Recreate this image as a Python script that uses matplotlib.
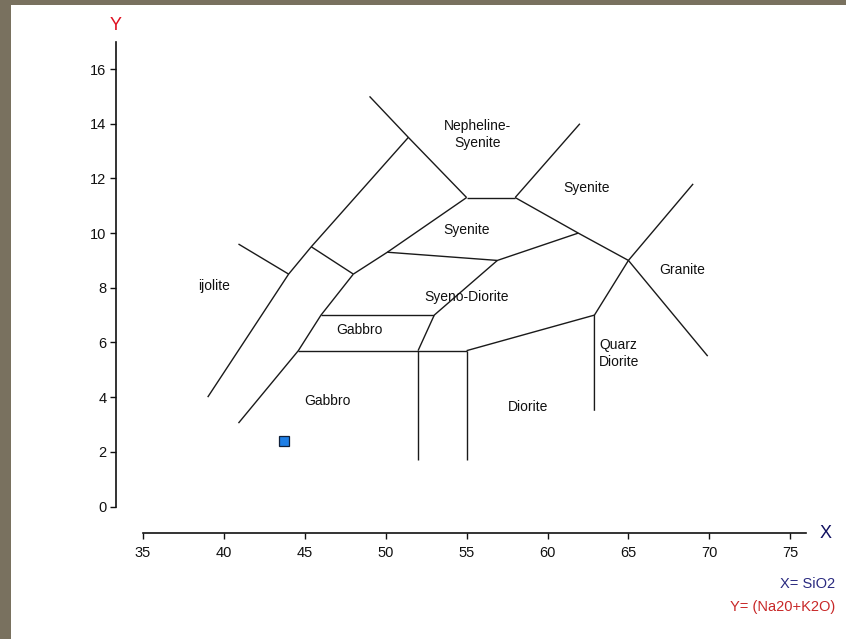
import matplotlib
matplotlib.use("Agg")
import matplotlib.pyplot as plt
from matplotlib.patches import Rectangle

plt.rcParams['font.family'] = ['Liberation Sans', 'DejaVu Sans']

# ---- boundary polylines (SiO2, Na2O+K2O) ----
ijolite_x = [39.0, 44.0, 45.4, 51.4]
ijolite_y = [4.0, 8.5, 9.5, 13.5]
ijolite_short_x = [40.9, 44.0]
ijolite_short_y = [9.6, 8.5]
gabbro_left_x = [40.9, 44.6, 46.0, 48.0]
gabbro_left_y = [3.05, 5.7, 7.0, 8.5]
link_x = [45.4, 48.0]
link_y = [9.5, 8.5]
syenite_low_x = [48.0, 50.1, 55.0]
syenite_low_y = [8.5, 9.3, 11.3]
neph_left_x = [49.0, 51.4, 55.0]
neph_left_y = [15.0, 13.5, 11.3]
neph_base_x = [55.0, 58.0]
neph_base_y = [11.3, 11.3]
neph_right_x = [58.0, 62.0]
neph_right_y = [11.3, 14.0]
syenite_base_x = [58.0, 61.9, 65.0, 69.9]
syenite_base_y = [11.3, 10.0, 9.0, 5.5]
syeno_top_x = [50.1, 56.9, 61.9]
syeno_top_y = [9.3, 9.0, 10.0]
granite_x = [69.0, 65.0, 62.9, 62.9]
granite_y = [11.8, 9.0, 7.0, 3.5]
diorite_top_x = [62.9, 55.0]
diorite_top_y = [7.0, 5.7]
diorite_left_x = [55.0, 55.0]
diorite_left_y = [5.7, 1.7]
gabbro_base_x = [44.6, 55.0]
gabbro_base_y = [5.7, 5.7]
gabbro_right_x = [52.0, 52.0]
gabbro_right_y = [5.7, 1.7]
gabbro_top_x = [46.0, 53.0]
gabbro_top_y = [7.0, 7.0]
gabbro_box_x = [53.0, 52.0]
gabbro_box_y = [7.0, 5.7]
syeno_right_x = [53.0, 56.9]
syeno_right_y = [7.0, 9.0]

boundaries = [
    (ijolite_x, ijolite_y), (ijolite_short_x, ijolite_short_y),
    (gabbro_left_x, gabbro_left_y), (link_x, link_y),
    (syenite_low_x, syenite_low_y), (neph_left_x, neph_left_y),
    (neph_base_x, neph_base_y), (neph_right_x, neph_right_y),
    (syenite_base_x, syenite_base_y), (syeno_top_x, syeno_top_y),
    (granite_x, granite_y), (diorite_top_x, diorite_top_y),
    (diorite_left_x, diorite_left_y), (gabbro_base_x, gabbro_base_y),
    (gabbro_right_x, gabbro_right_y), (gabbro_top_x, gabbro_top_y),
    (gabbro_box_x, gabbro_box_y), (syeno_right_x, syeno_right_y),
]

# ---- field labels ----
field_names = ["Nepheline-\nSyenite", "Syenite", "Syenite", "Granite", "ijolite",
               "Syeno-Diorite", "Gabbro", "Quarz\nDiorite", "Gabbro", "Diorite"]
field_x = [55.7, 62.4, 55.0, 68.3, 39.4, 55.0, 48.4, 64.4, 46.4, 58.8]
field_y = [13.6, 11.65, 10.1, 8.65, 8.06, 7.66, 6.46, 5.6, 3.86, 3.64]

# ---- sample ----
sample_sio2 = [43.7]
sample_alk = [2.4]

x_ticks = [35, 40, 45, 50, 55, 60, 65, 70, 75]
y_ticks = [0, 2, 4, 6, 8, 10, 12, 14, 16]

fig = plt.figure(figsize=(8.46, 6.39), dpi=100)
fig.patch.set_facecolor('white')
# grey frame of the original window
fig.patches.append(Rectangle((0, 0), 11 / 846, 1, transform=fig.transFigure,
                             facecolor='#79715f', edgecolor='none', zorder=0))
fig.patches.append(Rectangle((0, 1 - 5 / 639), 1, 5 / 639, transform=fig.transFigure,
                             facecolor='#79715f', edgecolor='none', zorder=0))

ax = fig.add_axes([143 / 846, 1 - 506.5 / 639, 663.4 / 846, 464.8 / 639])
ax.set_xlim(35, 76)
ax.set_ylim(0, 17)
ax.patch.set_alpha(0)

for xs, ys in boundaries:
    ax.plot(xs, ys, color='#1a1a1a', lw=1.0, solid_capstyle='butt')

for name, fx, fy in zip(field_names, field_x, field_y):
    ax.text(fx, fy, name, ha='center', va='center', fontsize=10,
            color='#111111', linespacing=1.25)

ax.plot(sample_sio2, sample_alk, marker='s', linestyle='none', markersize=6.5,
        markerfacecolor='#1f7fe6', markeredgecolor='#10203a', markeredgewidth=0.9)

for s in ['top', 'right']:
    ax.spines[s].set_visible(False)
ax.spines['left'].set_position(('outward', 19.4))
ax.spines['bottom'].set_position(('outward', 19.1))
for s in ['left', 'bottom']:
    ax.spines[s].set_linewidth(1.2)
    ax.spines[s].set_color('#111111')

ax.set_xticks(x_ticks)
ax.set_yticks(y_ticks)
ax.set_xticklabels([str(v) for v in x_ticks])
ax.set_yticklabels([str(v) for v in y_ticks])
ax.tick_params(axis='both', length=4, width=1, colors='#111111', labelsize=10.5)
ax.tick_params(axis='x', pad=5)
ax.tick_params(axis='y', pad=3)

fig.text(116 / 846, 1 - 26 / 639, 'Y', color='#e01020', fontsize=13,
         ha='center', va='center')
fig.text(826 / 846, 1 - 533 / 639, 'X', color='#101060', fontsize=13,
         ha='center', va='center')
fig.text(835 / 846, 1 - 584 / 639, 'X= SiO2', color='#2a2a80', fontsize=10.5,
         ha='right', va='center')
fig.text(835 / 846, 1 - 607 / 639, 'Y= (Na20+K2O)', color='#c82828', fontsize=10.5,
         ha='right', va='center')

fig.savefig('out.png', dpi=100)
